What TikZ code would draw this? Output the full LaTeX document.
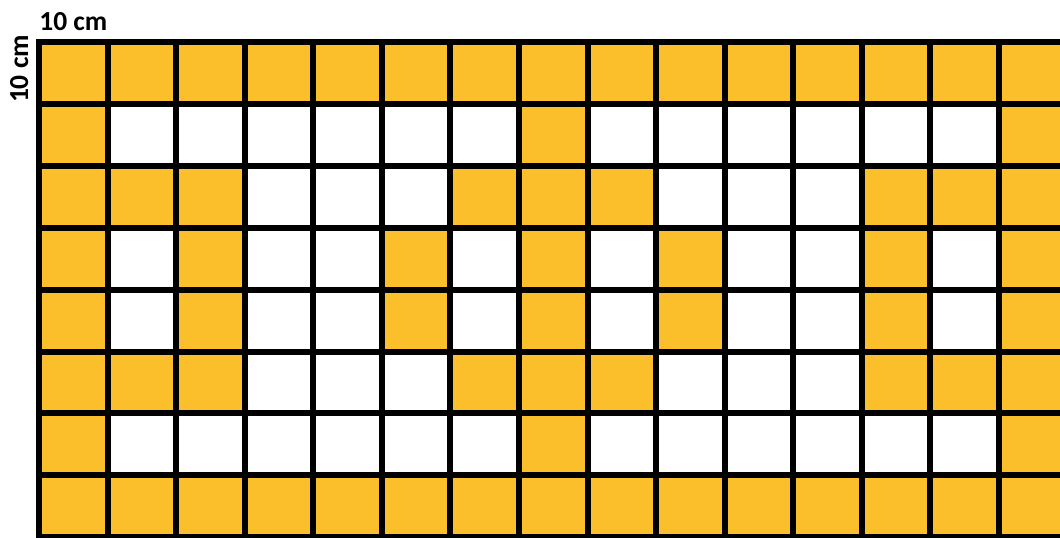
\documentclass[tikz,border=0pt]{standalone}
\usepackage{fontspec}
\setmainfont{Carlito}
\usetikzlibrary{positioning}
\definecolor{tileyellow}{HTML}{FBBF2B}
\tikzset{
  tile/.style={fill=tileyellow, draw=none},
  gridline/.style={line width=6pt, black, line cap=rect},
  sizelabel/.style={font=\fontsize{27.5}{30}\selectfont\bfseries, text=black, inner sep=0pt},
}

\begin{document}
\begin{tikzpicture}[x=1pt, y=-1pt]
  \useasboundingbox (0,0) rectangle (1060,538);

  % Size labels
  \node[sizelabel, anchor=base] (widthlabel) at (73.3, 30) {10 cm};
  \node[sizelabel, anchor=base, rotate=90] (heightlabel) at (28, 69) {10 cm};

  \begin{scope}
    \clip (0,0) rectangle (1060,538);
    % Yellow tiles, row by row
    \foreach \r/\cols in {0/{0,...,14}, 1/{0,7,14}, 2/{0,1,2,6,7,8,12,13,14},
                          3/{0,2,5,7,9,12,14}, 4/{0,2,5,7,9,12,14},
                          5/{0,1,2,6,7,8,12,13,14}, 6/{0,7,14}, 7/{0,...,14}}
      \foreach \c in \cols
        \fill[tile] (39+68.57*\c, 42+61.9*\r) rectangle ++(68.57, 61.9);

    % Grid lines
    \foreach \c in {0,...,15}
      \draw[gridline] (39+68.57*\c, 42) -- (39+68.57*\c, 537.2);
    \foreach \r in {0,...,8}
      \draw[gridline] (39, 42+61.9*\r) -- (1067.6, 42+61.9*\r);
  \end{scope}
\end{tikzpicture}
\end{document}
